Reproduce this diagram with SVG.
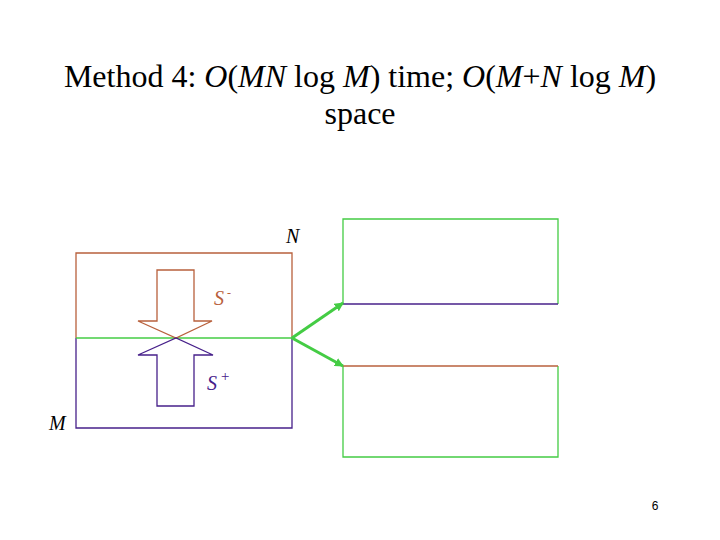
<svg xmlns="http://www.w3.org/2000/svg" width="720" height="540" viewBox="0 0 720 540">
<style>
.t{font-family:"Liberation Serif","Times New Roman",serif;fill:#000}
.br{stroke:#b8603c;fill:none;stroke-width:1.3}
.pu{stroke:#47208a;fill:none;stroke-width:1.3}
.gr{stroke:#44cc44;fill:none;stroke-width:1.3}
.lab{font-family:"Liberation Serif",serif;font-style:italic;font-size:20px}
</style>
<defs>
<marker id="ah" viewBox="0 0 10 10" refX="9" refY="5" markerWidth="3" markerHeight="3" orient="auto"><path d="M0,0 L10,5 L0,10 z" fill="#44cc44"/></marker>
</defs>
<rect width="720" height="540" fill="#fff"/>
<g id="title">
<text class="t" x="360" y="87" font-size="32" text-anchor="middle">Method 4: <tspan font-style="italic">O</tspan>(<tspan font-style="italic">MN</tspan> log <tspan font-style="italic">M</tspan>) time; <tspan font-style="italic">O</tspan>(<tspan font-style="italic">M</tspan>+<tspan font-style="italic">N</tspan> log <tspan font-style="italic">M</tspan>)</text>
<text class="t" x="360" y="124" font-size="32" text-anchor="middle">space</text>
</g>
<g id="matrix">
<path class="br" d="M76,338 V253 H292 V338"/>
<path class="pu" d="M76,338 V428 H292 V338"/>
<line class="gr" x1="76" y1="338" x2="292" y2="338"/>
<text class="lab" x="286" y="243">N</text>
<text class="lab" x="49" y="430">M</text>
</g>
<g id="s-minus">
<path class="br" d="M157,270 H194 V321 H212 L176,338 L138,321 H157 Z"/>
<text class="lab" x="214" y="305" fill="#b8603c">S<tspan font-size="12" dy="-8" dx="3">-</tspan></text>
</g>
<g id="s-plus">
<path class="pu" d="M157,406 H194 V355 H213 L176,338 L138,355 H157 Z"/>
<text class="lab" x="207" y="390" fill="#47208a">S<tspan font-size="15" dy="-9" dx="3">+</tspan></text>
</g>
<g id="top-box">
<path class="gr" d="M343,304 V219 H558 V304"/>
<line class="pu" x1="343" y1="304" x2="558" y2="304"/>
</g>
<g id="bottom-box">
<path class="gr" d="M343,366 V457 H558 V366"/>
<line class="br" x1="343" y1="366" x2="558" y2="366"/>
</g>
<g id="connectors">
<line x1="292" y1="338" x2="343" y2="303" stroke="#44cc44" stroke-width="3" marker-end="url(#ah)"/>
<line x1="292" y1="338" x2="343" y2="366" stroke="#44cc44" stroke-width="3" marker-end="url(#ah)"/>
</g>
<text x="655" y="510" font-family="Liberation Sans,Arial,sans-serif" font-size="12" text-anchor="middle">6</text>
</svg>
